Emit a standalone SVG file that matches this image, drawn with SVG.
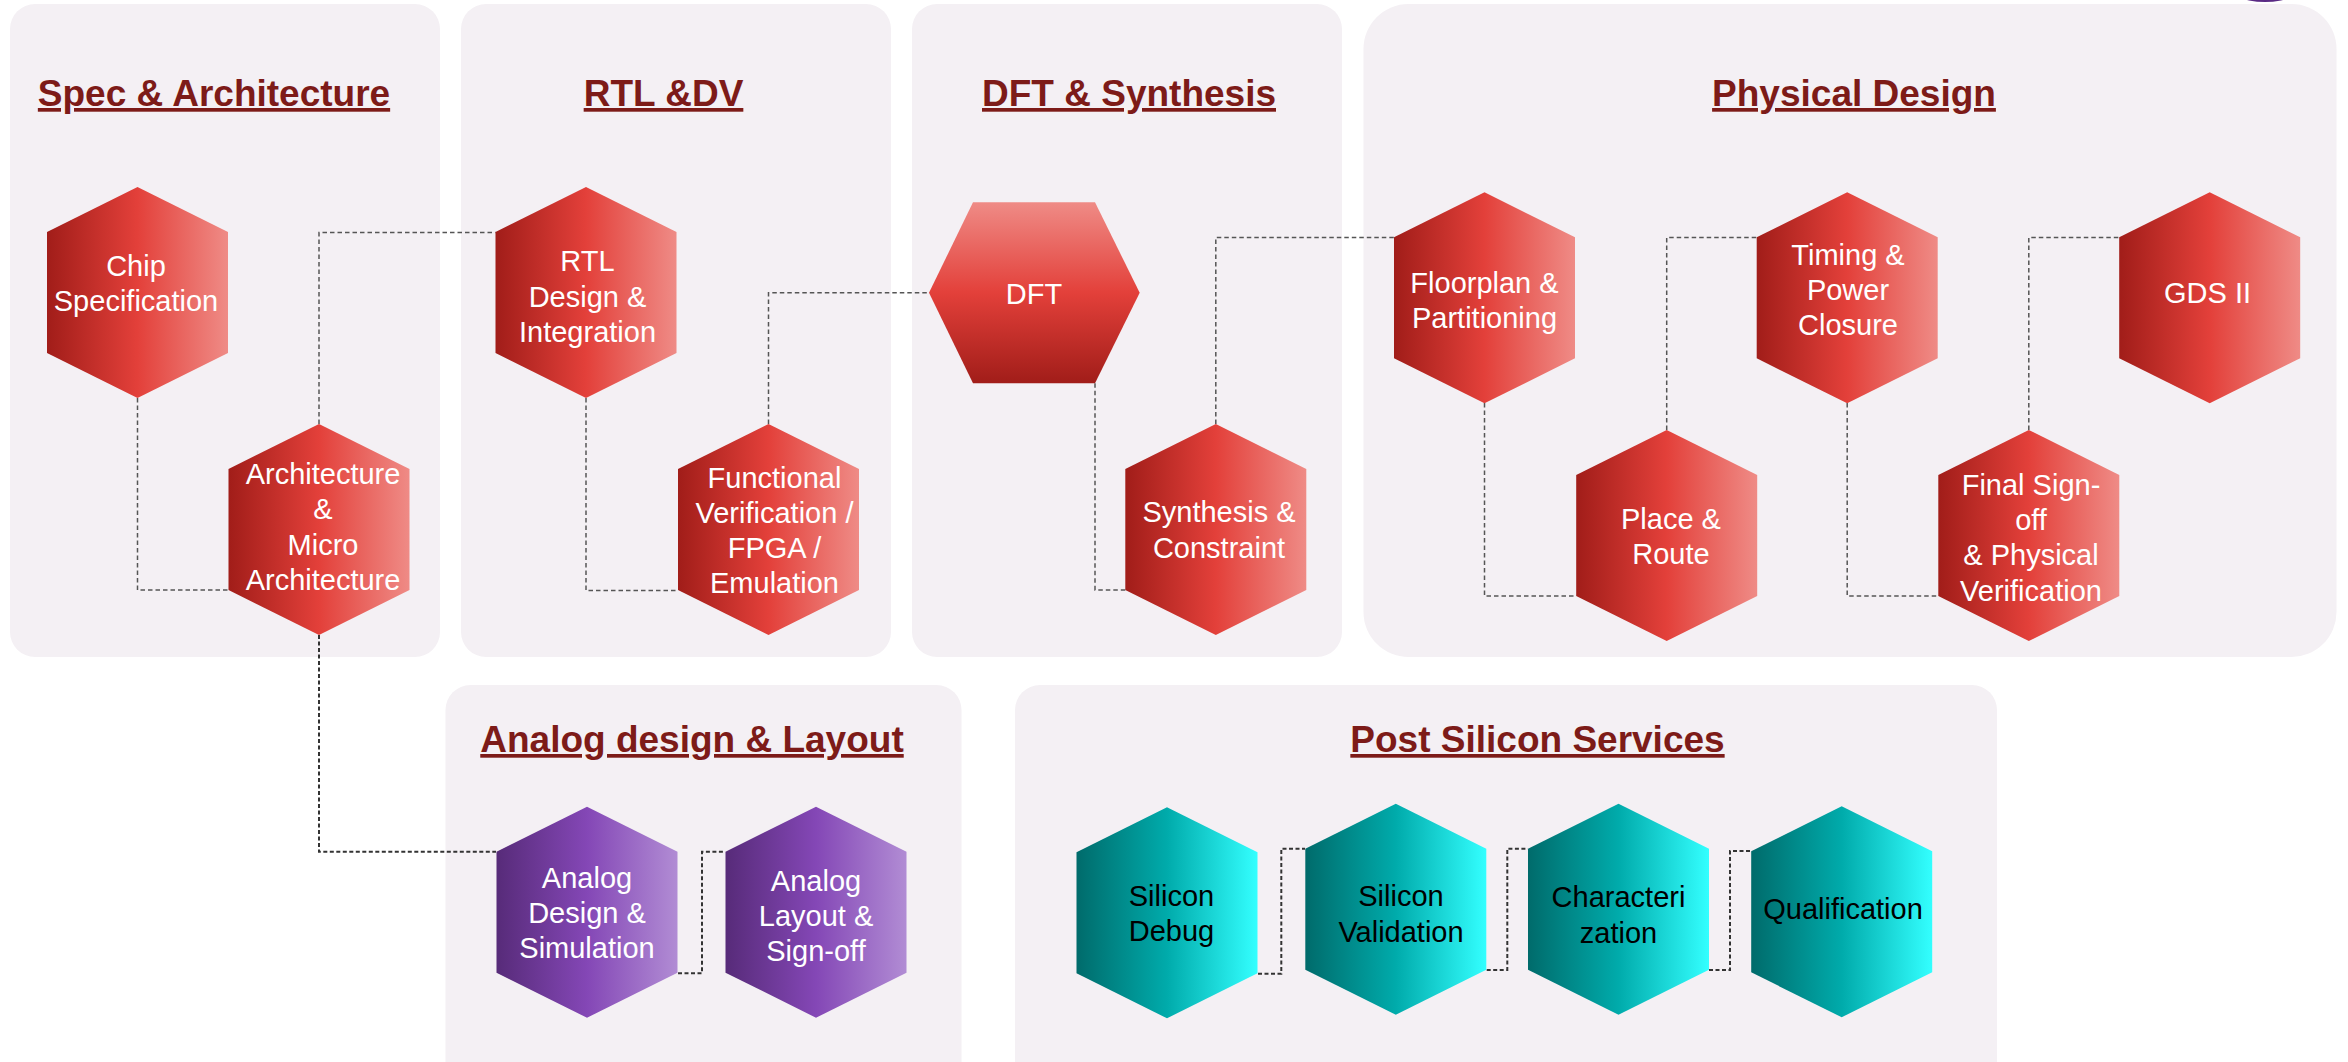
<svg xmlns="http://www.w3.org/2000/svg" width="2348" height="1062" viewBox="0 0 2348 1062">
  <defs>
    <linearGradient id="gRed" x1="0" y1="0" x2="1" y2="0">
      <stop offset="0" stop-color="#A11D19"/>
      <stop offset="0.5" stop-color="#E3403A"/>
      <stop offset="1" stop-color="#EF8B86"/>
    </linearGradient>
    <linearGradient id="gRedV" x1="0" y1="0" x2="0" y2="1">
      <stop offset="0" stop-color="#EF8B86"/>
      <stop offset="0.5" stop-color="#E3403A"/>
      <stop offset="1" stop-color="#A11D19"/>
    </linearGradient>
    <linearGradient id="gPurple" x1="0" y1="0" x2="1" y2="0">
      <stop offset="0" stop-color="#572B79"/>
      <stop offset="0.5" stop-color="#8447B6"/>
      <stop offset="1" stop-color="#B18CD4"/>
    </linearGradient>
    <linearGradient id="gTeal" x1="0" y1="0" x2="1" y2="0">
      <stop offset="0" stop-color="#006B6B"/>
      <stop offset="0.5" stop-color="#00ABAB"/>
      <stop offset="1" stop-color="#33FFFF"/>
    </linearGradient>
    <!-- pointy-top hexagon, 181 wide x 211 tall, origin at its top vertex -->
    <polygon id="hex" points="0,0 90.5,45 90.5,166 0,211 -90.5,166 -90.5,45"/>
  </defs>
  <style>
    .panel { fill: #F4F0F4; }
    .title { font-family: "Liberation Sans", Arial, sans-serif; font-weight: bold; font-size: 37px; fill: #7D1B18; text-anchor: middle; text-decoration: underline; }
    .lbl { font-family: "Liberation Sans", Arial, sans-serif; font-size: 29px; text-anchor: middle; }
    .w { fill: #FFFFFF; }
    .k { fill: #000000; }
    .red { fill: url(#gRed); }
    .purple { fill: url(#gPurple); }
    .teal { fill: url(#gTeal); }
    .conn { fill: none; stroke: #555555; stroke-width: 1.5; stroke-dasharray: 4.5 3; }
    .conn2 { fill: none; stroke: #333333; stroke-width: 2; stroke-dasharray: 4 2.5; }
  </style>

  <rect width="2348" height="1062" fill="#FFFFFF"/>

  <!-- stage panels -->
  <g id="panels">
    <rect class="panel" x="10" y="4" width="430" height="653" rx="25"/>
    <rect class="panel" x="461" y="4" width="430" height="653" rx="25"/>
    <rect class="panel" x="912" y="4" width="430" height="653" rx="25"/>
    <rect class="panel" x="1363.5" y="4" width="973" height="653" rx="45"/>
    <rect class="panel" x="445.5" y="685" width="516" height="420" rx="25"/>
    <rect class="panel" x="1015" y="685" width="982" height="420" rx="25"/>
    <circle cx="2265" cy="-80" r="82" fill="#5A2A84"/>
  </g>

  <!-- stage titles -->
  <g id="titles">
    <text class="title" x="214" y="106">Spec &amp; Architecture</text>
    <text class="title" x="663.5" y="106">RTL &amp;DV</text>
    <text class="title" x="1129" y="106">DFT &amp; Synthesis</text>
    <text class="title" x="1854" y="106">Physical Design</text>
    <text class="title" x="692" y="752">Analog design &amp; Layout</text>
    <text class="title" x="1537.5" y="752">Post Silicon Services</text>
  </g>

  <!-- dashed flow connectors -->
  <g id="connectors">
    <polyline class="conn" points="137.5,398 137.5,590 228.3,590"/>
    <polyline class="conn" points="319,424 319,232.5 495.5,232.5"/>
    <polyline class="conn" points="586,398 586,590.5 678,590.5"/>
    <polyline class="conn" points="768.5,424 768.5,292.8 929,292.8"/>
    <polyline class="conn" points="1095,383.3 1095,590 1125.3,590"/>
    <polyline class="conn" points="1215.8,424 1215.8,237.5 1394,237.5"/>
    <polyline class="conn" points="1484.5,403 1484.5,596 1576,596"/>
    <polyline class="conn" points="1666.7,430 1666.7,237.5 1756.7,237.5"/>
    <polyline class="conn" points="1847.2,403 1847.2,596 1938.3,596"/>
    <polyline class="conn" points="2028.8,430 2028.8,237.5 2118.7,237.5"/>
    <polyline class="conn2" points="319,635 319,851.7 496,851.7"/>
    <polyline class="conn2" points="678,973.3 702,973.3 702,851.7 725.3,851.7"/>
    <polyline class="conn2" points="1258,973.7 1281.3,973.7 1281.3,848.7 1305,848.7"/>
    <polyline class="conn2" points="1486.7,970 1507.3,970 1507.3,848.7 1528,848.7"/>
    <polyline class="conn2" points="1709,970 1730,970 1730,851 1750.7,851"/>
  </g>

  <!-- nodes -->
  <g id="chip-spec">
    <use href="#hex" class="red" x="137.5" y="187"/>
    <text class="lbl w" x="136" y="276">Chip<tspan x="136" y="311">Specification</tspan></text>
  </g>
  <g id="arch">
    <use href="#hex" class="red" x="319" y="424"/>
    <text class="lbl w" x="323" y="484">Architecture<tspan x="323" y="519.3">&amp;</tspan><tspan x="323" y="554.6">Micro</tspan><tspan x="323" y="590">Architecture</tspan></text>
  </g>
  <g id="rtl">
    <use href="#hex" class="red" x="586" y="187"/>
    <text class="lbl w" x="587.5" y="271">RTL<tspan x="587.5" y="306.5">Design &amp;</tspan><tspan x="587.5" y="342">Integration</tspan></text>
  </g>
  <g id="func-verif">
    <use href="#hex" class="red" x="768.5" y="424"/>
    <text class="lbl w" x="774.5" y="487.7">Functional<tspan x="774.5" y="522.8">Verification /</tspan><tspan x="774.5" y="558">FPGA /</tspan><tspan x="774.5" y="593">Emulation</tspan></text>
  </g>
  <g id="dft">
    <polygon fill="url(#gRedV)" points="973,202.3 1095,202.3 1139.7,292.8 1095,383.3 973,383.3 929,292.8"/>
    <text class="lbl w" x="1034" y="304">DFT</text>
  </g>
  <g id="synthesis">
    <use href="#hex" class="red" x="1215.8" y="424"/>
    <text class="lbl w" x="1219" y="522">Synthesis &amp;<tspan x="1219" y="558">Constraint</tspan></text>
  </g>
  <g id="floorplan">
    <use href="#hex" class="red" x="1484.5" y="192.3"/>
    <text class="lbl w" x="1484.5" y="293.3">Floorplan &amp;<tspan x="1484.5" y="328.3">Partitioning</tspan></text>
  </g>
  <g id="place-route">
    <use href="#hex" class="red" x="1666.7" y="430"/>
    <text class="lbl w" x="1671" y="529">Place &amp;<tspan x="1671" y="564">Route</tspan></text>
  </g>
  <g id="timing">
    <use href="#hex" class="red" x="1847.2" y="192.3"/>
    <text class="lbl w" x="1848" y="265">Timing &amp;<tspan x="1848" y="300">Power</tspan><tspan x="1848" y="335">Closure</tspan></text>
  </g>
  <g id="signoff">
    <use href="#hex" class="red" x="2028.8" y="430"/>
    <text class="lbl w" x="2031" y="495">Final Sign-<tspan x="2031" y="530">off</tspan><tspan x="2031" y="565.3">&amp; Physical</tspan><tspan x="2031" y="600.7">Verification</tspan></text>
  </g>
  <g id="gds">
    <use href="#hex" class="red" x="2209.7" y="192.3"/>
    <text class="lbl w" x="2207.5" y="302.7">GDS II</text>
  </g>
  <g id="analog-design">
    <use href="#hex" class="purple" x="587" y="806.7"/>
    <text class="lbl w" x="587" y="888.3">Analog<tspan x="587" y="923.3">Design &amp;</tspan><tspan x="587" y="958.3">Simulation</tspan></text>
  </g>
  <g id="analog-layout">
    <use href="#hex" class="purple" x="816" y="806.7"/>
    <text class="lbl w" x="816" y="890.7">Analog<tspan x="816" y="925.7">Layout &amp;</tspan><tspan x="816" y="960.7">Sign-off</tspan></text>
  </g>
  <g id="si-debug">
    <use href="#hex" class="teal" x="1167" y="807.3"/>
    <text class="lbl k" x="1171.5" y="905.7">Silicon<tspan x="1171.5" y="940.7">Debug</tspan></text>
  </g>
  <g id="si-validation">
    <use href="#hex" class="teal" x="1395.8" y="803.7"/>
    <text class="lbl k" x="1401" y="905.7">Silicon<tspan x="1401" y="941.7">Validation</tspan></text>
  </g>
  <g id="characterization">
    <use href="#hex" class="teal" x="1618.5" y="803.7"/>
    <text class="lbl k" x="1618.5" y="907.3">Characteri<tspan x="1618.5" y="943.3">zation</tspan></text>
  </g>
  <g id="qualification">
    <use href="#hex" class="teal" x="1841.7" y="806.3"/>
    <text class="lbl k" x="1843" y="919.3">Qualification</text>
  </g>
</svg>
